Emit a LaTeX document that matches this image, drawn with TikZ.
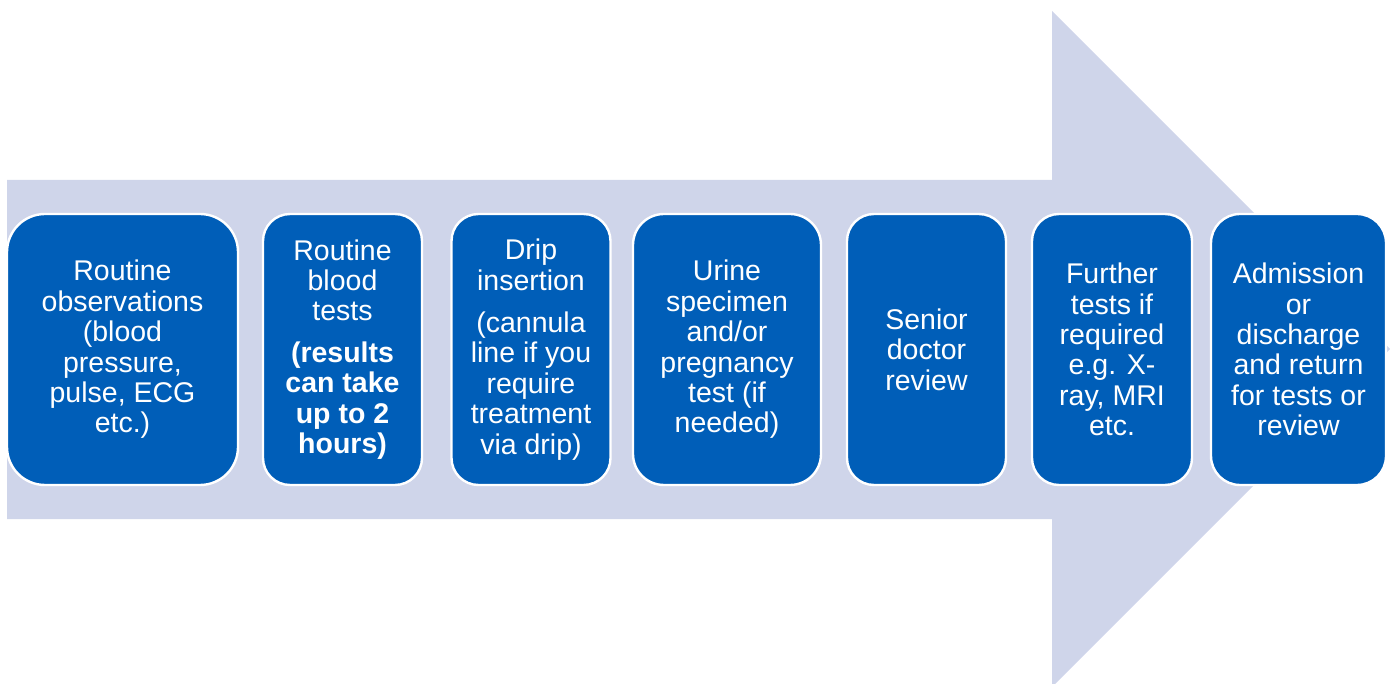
\documentclass[tikz,border=0pt]{standalone}
\usepackage{fontspec}
\setmainfont{Liberation Sans}
\definecolor{shaft}{HTML}{CFD5EA}
\definecolor{stepblue}{HTML}{005EB8}
\begin{document}
\begin{tikzpicture}[x=1pt,y=-1pt,
  stepbox/.style={draw=white, line width=2.4pt, fill=stepblue, text=white,
    align=center, inner sep=0pt, minimum height=271pt,
    font=\fontsize{28.5}{30.4}\selectfont}]
\useasboundingbox (0,0) rectangle (1390,684);
% broad process arrow behind the steps
\fill[shaft] (7,180) -- (1052,180) -- (1052,11) -- (1390,349)
  -- (1052,687) -- (1052,519) -- (7,519) -- cycle;
% the steps, left to right
\node[stepbox, minimum width=231pt, rounded corners=38pt] (obs) at (122.5,349.5)
  {Routine\\observations\\(blood\\pressure,\\pulse, ECG\\etc.)};
\node[stepbox, minimum width=159pt, rounded corners=27pt] (blood) at (342.5,349.5)
  {Routine\\blood\\tests\\[11pt]\textbf{(results}\\\textbf{can take}\\\textbf{up to 2}\\\textbf{hours)}};
\node[stepbox, minimum width=159pt, rounded corners=27pt] (drip) at (531,349.5)
  {Drip\\insertion\\[12pt](cannula\\line if you\\require\\treatment\\via drip)};
\node[stepbox, minimum width=188pt, rounded corners=31pt] (urine) at (727,349.5)
  {Urine\\specimen\\and/or\\pregnancy\\test (if\\needed)};
\node[stepbox, minimum width=159pt, rounded corners=27pt] (senior) at (926.5,349.5)
  {Senior\\doctor\\review};
\node[stepbox, minimum width=160pt, rounded corners=27pt] (further) at (1112,349.5)
  {Further\\tests if\\required\\e.g. X-\\ray, MRI\\etc.};
\node[stepbox, minimum width=175pt, rounded corners=29pt] (admit) at (1298.5,349.5)
  {Admission\\or\\discharge\\and return\\for tests or\\review};
\end{tikzpicture}
\end{document}
